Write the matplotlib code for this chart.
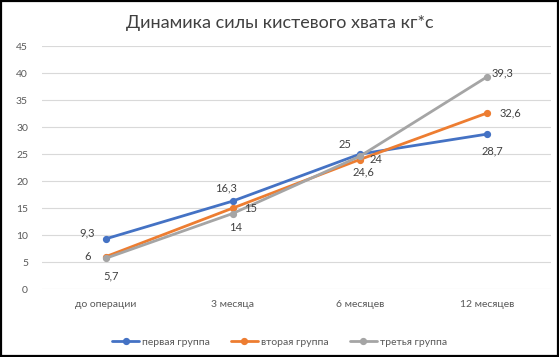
import matplotlib
matplotlib.use("Agg")
import matplotlib.pyplot as plt
from matplotlib.patches import Rectangle

plt.rcParams["font.family"] = ["Lato", "DejaVu Sans"]

# ---------------------------------------------------------------- data
categories = ["до операции", "3 месяца", "6 месяцев", "12 месяцев"]
group1 = [9.3, 16.3, 25, 28.7]
group2 = [6, 15, 24, 32.6]
group3 = [5.7, 14, 24.6, 39.3]
names = ["первая группа", "вторая группа", "третья группа"]
yticks = list(range(0, 50, 5))

colors = ["#4472C4", "#ED7D31", "#A5A5A5"]
# label offsets in pixels, per point
offsets = [
    [(-18, 6), (-7, 13), (-15, 10), (5, -17)],
    [(-18, 0), (18, 0), (16, 0), (23, 0)],
    [(6, -18), (3, -14), (4, -16), (15, 4)],
]

fig = plt.figure(figsize=(5.59, 3.57), dpi=100)
ax = fig.add_axes([0.075, 0.19, 0.91, 0.681])

x = range(len(categories))
for vals, name, c, offs in zip([group1, group2, group3], names, colors, offsets):
    ax.plot(x, vals, color=c, lw=2.0, marker="o", ms=4.2, label=name,
            solid_capstyle="round")
    for xi, v, (dx, dy) in zip(x, vals, offs):
        ax.annotate(f"{v:g}".replace(".", ","), (xi, v), xytext=(dx, dy),
                    textcoords="offset pixels", ha="center", va="center",
                    fontsize=8, color="#404040")

ax.set_xlim(-0.5, len(categories) - 0.5)
ax.set_ylim(0, 45)
ax.set_yticks(yticks)
ax.set_xticks(list(x))
ax.set_xticklabels(categories)
ax.grid(axis="y", color="#D9D9D9", lw=0.8)
ax.set_axisbelow(True)
for s in ax.spines.values():
    s.set_visible(False)
ax.tick_params(length=0, labelsize=7.5, colors="#595959", pad=8)
ax.tick_params(axis="y", pad=10)

fig.text(0.5, 0.935, "Динамика силы кистевого хвата кг*с", ha="center",
         va="center", fontsize=13, color="#404040")

fig.legend(loc="center", bbox_to_anchor=(0.5, 0.042), ncol=3, frameon=False,
           fontsize=7.5, labelcolor="#595959", handlelength=2.6,
           columnspacing=2.0, handletextpad=0.3)

fig.add_artist(Rectangle((0.002, 0.003), 0.996, 0.994, transform=fig.transFigure,
                         fill=False, ec="black", lw=1.6))

fig.savefig("out.png", dpi=100)
